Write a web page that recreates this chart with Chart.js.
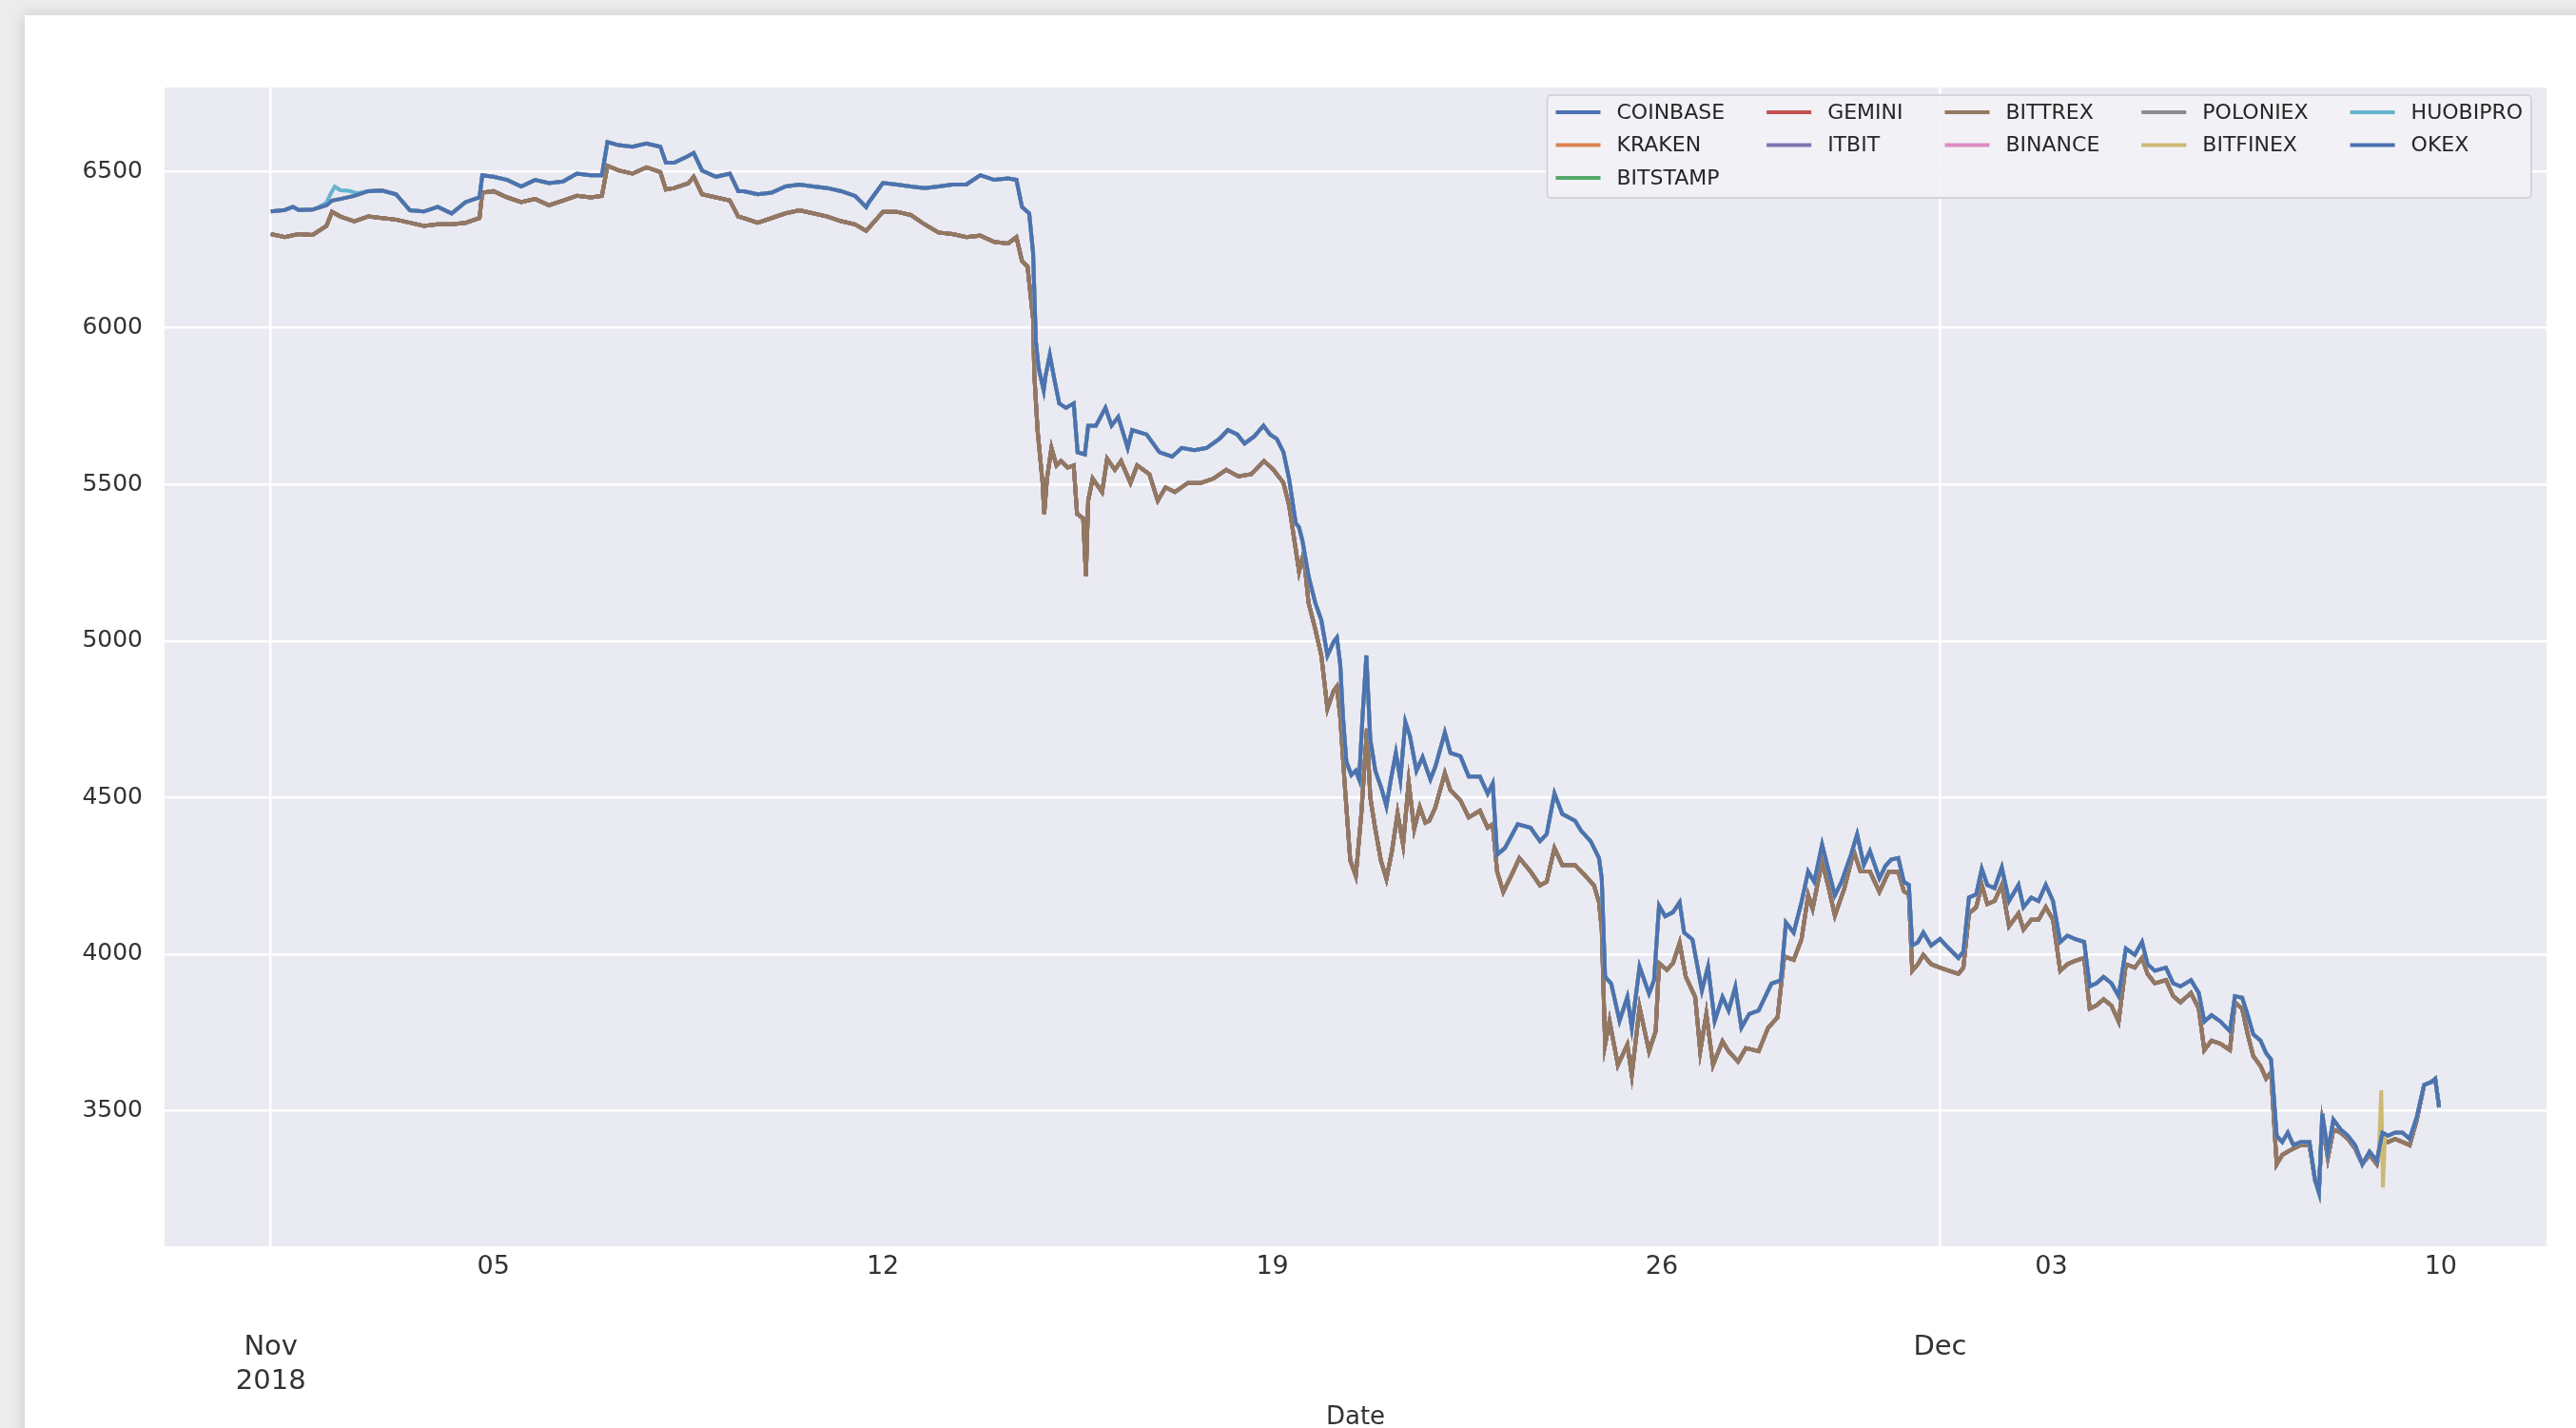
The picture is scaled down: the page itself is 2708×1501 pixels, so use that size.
<!DOCTYPE html>
<html>
<head>
<meta charset="utf-8">
<script src="https://cdn.jsdelivr.net/npm/chart.js@4.4.1/dist/chart.umd.min.js"></script>
<style>
  html, body { margin: 0; padding: 0; }
  body { width: 2708px; height: 1501px; background: #ececec; position: relative; overflow: hidden; }
  #card { position: absolute; left: 26px; top: 16px; width: 2720px; height: 1520px; background: #fff; box-shadow: 0 0 14px rgba(0,0,0,0.16); }
  #chart { position: absolute; left: 0; top: 0; }
</style>
</head>
<body>
<div id="card"></div>
<canvas id="chart" width="2708" height="1501"></canvas>
<script>
// x values are days since 2018-11-01 00:00
const exchanges = ["COINBASE", "KRAKEN", "BITSTAMP", "GEMINI", "ITBIT", "BITTREX",
                   "BINANCE", "POLONIEX", "BITFINEX", "HUOBIPRO", "OKEX"];
const colors = ["#4c72b0", "#dd8452", "#55a868", "#c44e52", "#8172b3", "#937860",
                "#da8bc3", "#8c8c8c", "#ccb974", "#64b5cd", "#4c72b0"];
// which exchanges follow the upper (USDT) price line
const upperGroup = ["BINANCE", "POLONIEX", "BITFINEX", "HUOBIPRO", "OKEX"];

const minorTickDays = [4, 11, 18, 25, 32, 39];
const minorTickLabels = ["05", "12", "19", "26", "03", "10"];
const majorTickDays = [0, 30];
const majorTickLabels = [["Nov", "2018"], ["Dec"]];
const yTicks = [3500, 4000, 4500, 5000, 5500, 6000, 6500];

const upperPrices = [
  [0,6372],[0.25,6377],[0.4,6387],[0.5,6377],[0.75,6378],[1.0,6392],[1.1,6407],[1.25,6412],[1.5,6422],[1.75,6437],
  [2.0,6439],[2.25,6427],[2.5,6376],[2.75,6372],[3.0,6387],[3.25,6366],[3.5,6402],[3.75,6417],[3.8,6488],[4.0,6483],
  [4.25,6473],[4.5,6452],[4.75,6473],[5.0,6463],[5.25,6468],[5.5,6493],[5.75,6488],[5.95,6488],[6.05,6594],[6.25,6584],
  [6.5,6579],[6.75,6589],[7.0,6579],[7.1,6528],[7.25,6528],[7.5,6549],[7.6,6559],[7.75,6503],[8.0,6483],[8.25,6493],
  [8.4,6437],[8.5,6437],[8.75,6427],[9.0,6432],[9.25,6452],[9.5,6458],[9.75,6452],[10.0,6447],[10.25,6437],[10.5,6422],
  [10.7,6386],[10.75,6402],[11.0,6463],[11.25,6458],[11.5,6452],[11.75,6447],[12.0,6452],[12.25,6458],[12.5,6458],[12.75,6488],
  [13.0,6473],[13.25,6478],[13.4,6473],[13.5,6387],[13.63,6366],[13.7,6239],[13.75,5956],[13.8,5872],[13.89,5801],[13.92,5843],
  [14.0,5914],[14.09,5829],[14.17,5759],[14.29,5745],[14.43,5759],[14.5,5603],[14.63,5596],[14.69,5688],[14.83,5688],[15.0,5745],
  [15.11,5688],[15.23,5716],[15.4,5617],[15.48,5674],[15.74,5660],[15.97,5603],[16.2,5589],[16.37,5617],[16.6,5610],[16.82,5617],
  [17.05,5646],[17.2,5674],[17.37,5660],[17.5,5631],[17.67,5653],[17.84,5688],[17.96,5660],[18.08,5646],[18.2,5603],[18.3,5519],
  [18.42,5377],[18.48,5363],[18.54,5321],[18.65,5208],[18.77,5123],[18.88,5067],[18.99,4954],[19.1,4997],[19.16,5011],[19.22,4926],
  [19.27,4756],[19.33,4615],[19.42,4572],[19.5,4586],[19.56,4558],[19.62,4756],[19.69,4954],[19.76,4686],[19.85,4586],[19.96,4530],
  [20.05,4473],[20.13,4558],[20.22,4643],[20.3,4558],[20.39,4742],[20.47,4699],[20.59,4586],[20.7,4629],[20.84,4558],[20.93,4599],
  [21.1,4708],[21.2,4643],[21.38,4632],[21.53,4567],[21.73,4567],[21.87,4513],[21.96,4545],[22.04,4318],[22.18,4339],[22.41,4415],
  [22.64,4404],[22.81,4361],[22.93,4383],[23.07,4513],[23.21,4448],[23.44,4426],[23.55,4394],[23.72,4361],[23.87,4307],[23.92,4242],
  [23.98,3928],[24.09,3906],[24.24,3787],[24.38,3863],[24.46,3765],[24.6,3960],[24.77,3874],[24.86,3917],[24.95,4155],[25.06,4121],
  [25.2,4134],[25.32,4166],[25.4,4069],[25.55,4047],[25.72,3884],[25.83,3960],[25.95,3787],[26.09,3863],[26.2,3820],[26.32,3895],
  [26.43,3765],[26.57,3809],[26.74,3820],[26.97,3906],[27.14,3917],[27.23,4101],[27.37,4069],[27.51,4166],[27.63,4264],[27.74,4231],
  [27.88,4350],[28.0,4264],[28.11,4188],[28.23,4231],[28.4,4318],[28.51,4383],[28.63,4285],[28.74,4329],[28.91,4242],[29.02,4282],
  [29.12,4302],[29.25,4307],[29.35,4231],[29.44,4221],[29.5,4028],[29.6,4038],[29.7,4069],[29.84,4028],[30.0,4049],[30.16,4018],
  [30.33,3988],[30.42,4008],[30.52,4181],[30.65,4191],[30.75,4272],[30.85,4221],[30.98,4211],[31.11,4277],[31.24,4170],[31.41,4221],
  [31.5,4150],[31.64,4181],[31.77,4170],[31.9,4221],[32.03,4170],[32.16,4039],[32.29,4059],[32.42,4049],[32.59,4039],[32.69,3897],
  [32.81,3907],[32.94,3927],[33.08,3907],[33.21,3866],[33.34,4018],[33.5,3998],[33.63,4039],[33.73,3968],[33.86,3947],[34.06,3957],
  [34.19,3907],[34.32,3897],[34.51,3917],[34.65,3876],[34.75,3785],[34.88,3805],[35.04,3785],[35.21,3754],[35.3,3866],[35.43,3861],
  [35.53,3805],[35.63,3744],[35.76,3724],[35.86,3684],[35.95,3663],[36.05,3420],[36.15,3400],[36.25,3430],[36.35,3390],[36.48,3400],
  [36.64,3400],[36.74,3278],[36.81,3238],[36.87,3491],[36.97,3369],[37.07,3471],[37.2,3440],[37.33,3420],[37.46,3390],[37.59,3329],
  [37.72,3369],[37.85,3339],[37.95,3430],[38.05,3420],[38.18,3430],[38.31,3430],[38.44,3410],[38.57,3481],[38.7,3582],[38.83,3592],
  [38.9,3602],[38.97,3511]
];

const lowerPrices = [
  [0,6300],[0.25,6290],[0.5,6300],[0.75,6297],[1.0,6326],[1.1,6371],[1.25,6356],[1.5,6341],[1.75,6356],[2.0,6351],
  [2.25,6346],[2.5,6336],[2.75,6326],[3.0,6331],[3.25,6331],[3.5,6336],[3.75,6351],[3.8,6432],[4.0,6437],[4.25,6417],
  [4.5,6402],[4.75,6412],[5.0,6392],[5.25,6407],[5.5,6422],[5.75,6417],[5.95,6422],[6.05,6518],[6.25,6503],[6.5,6493],
  [6.75,6513],[7.0,6498],[7.1,6442],[7.25,6447],[7.5,6462],[7.6,6483],[7.75,6427],[8.0,6417],[8.25,6407],[8.4,6356],
  [8.5,6351],[8.75,6336],[9.0,6351],[9.25,6366],[9.5,6376],[9.75,6366],[10.0,6356],[10.25,6341],[10.5,6331],[10.7,6310],
  [10.75,6320],[11.0,6371],[11.25,6371],[11.5,6361],[11.75,6331],[12.0,6305],[12.25,6300],[12.5,6290],[12.75,6295],[13.0,6275],
  [13.25,6270],[13.4,6290],[13.5,6214],[13.6,6196],[13.7,6027],[13.72,5857],[13.78,5674],[13.87,5505],[13.9,5406],[13.95,5519],
  [14.03,5617],[14.12,5561],[14.2,5575],[14.32,5554],[14.43,5561],[14.49,5406],[14.6,5392],[14.65,5208],[14.69,5448],[14.77,5519],
  [14.94,5476],[15.03,5582],[15.17,5547],[15.28,5575],[15.45,5505],[15.57,5561],[15.79,5533],[15.94,5448],[16.08,5491],[16.25,5476],
  [16.48,5505],[16.71,5505],[16.94,5519],[17.17,5547],[17.39,5526],[17.62,5533],[17.85,5575],[18.02,5547],[18.2,5505],[18.3,5434],
  [18.42,5293],[18.48,5222],[18.56,5279],[18.65,5123],[18.77,5039],[18.88,4954],[18.99,4784],[19.1,4841],[19.16,4855],[19.22,4756],
  [19.3,4544],[19.4,4300],[19.5,4250],[19.6,4450],[19.7,4720],[19.76,4500],[19.85,4400],[19.95,4300],[20.05,4240],[20.15,4330],
  [20.25,4450],[20.35,4350],[20.45,4550],[20.55,4400],[20.65,4470],[20.75,4420],[20.82,4426],[20.93,4469],[21.1,4578],[21.2,4524],
  [21.38,4491],[21.53,4437],[21.73,4458],[21.87,4404],[21.96,4415],[22.04,4264],[22.15,4199],[22.3,4253],[22.44,4307],[22.64,4264],
  [22.81,4220],[22.93,4231],[23.07,4339],[23.21,4285],[23.44,4285],[23.61,4253],[23.78,4220],[23.87,4166],[23.92,4079],[23.98,3711],
  [24.06,3787],[24.21,3646],[24.38,3711],[24.46,3614],[24.6,3830],[24.77,3690],[24.89,3754],[24.95,3971],[25.09,3950],[25.2,3971],
  [25.32,4036],[25.43,3928],[25.6,3863],[25.69,3690],[25.8,3809],[25.92,3646],[26.09,3722],[26.2,3690],[26.37,3657],[26.51,3700],
  [26.74,3690],[26.91,3765],[27.08,3798],[27.2,3993],[27.37,3982],[27.51,4047],[27.63,4188],[27.71,4145],[27.88,4296],[28.0,4210],
  [28.11,4123],[28.28,4210],[28.45,4329],[28.57,4264],[28.74,4264],[28.91,4199],[29.08,4264],[29.25,4262],[29.35,4201],[29.44,4191],
  [29.5,3947],[29.6,3968],[29.7,3998],[29.84,3968],[30.0,3957],[30.16,3947],[30.33,3937],[30.42,3957],[30.52,4130],[30.65,4150],
  [30.75,4221],[30.85,4160],[30.98,4170],[31.11,4221],[31.24,4089],[31.41,4130],[31.5,4079],[31.64,4110],[31.77,4110],[31.9,4150],
  [32.03,4110],[32.16,3947],[32.29,3968],[32.42,3978],[32.59,3988],[32.69,3826],[32.81,3836],[32.94,3856],[33.08,3836],[33.21,3785],
  [33.34,3968],[33.5,3957],[33.63,3988],[33.73,3937],[33.86,3907],[34.06,3917],[34.19,3866],[34.32,3846],[34.51,3876],[34.65,3826],
  [34.75,3694],[34.88,3724],[35.04,3714],[35.21,3694],[35.3,3846],[35.43,3826],[35.53,3744],[35.63,3674],[35.76,3643],[35.86,3603],
  [35.95,3623],[36.05,3329],[36.15,3359],[36.25,3369],[36.35,3379],[36.48,3390],[36.64,3390],[36.74,3278],[36.81,3248],[36.87,3461],
  [36.97,3349],[37.07,3440],[37.2,3430],[37.33,3410],[37.46,3379],[37.59,3329],[37.72,3359],[37.85,3329],[37.95,3410],[38.05,3400],
  [38.18,3410],[38.31,3400],[38.44,3390],[38.57,3471],[38.7,3582],[38.83,3592],[38.9,3602],[38.97,3511]
];

// stretches where a single exchange leaves the common line
const huobiEarly = [[0.85,6385],[1.0,6400],[1.08,6430],[1.15,6452],[1.25,6440],[1.4,6438],[1.55,6430],[1.7,6435]];
const bitfinexSpike = [[37.88,3345],[37.93,3565],[37.96,3255],[38.0,3425]];

function toPoints(rows) {
  return rows.map(r => ({ x: r[0], y: r[1] }));
}
function withSegment(base, seg) {
  const lo = seg[0][0], hi = seg[seg.length - 1][0];
  const rows = base.filter(r => r[0] < lo || r[0] > hi).concat(seg);
  rows.sort((a, b) => a[0] - b[0]);
  return toPoints(rows);
}

function seriesFor(name) {
  if (name === "HUOBIPRO") return withSegment(upperPrices, huobiEarly);
  if (name === "BITFINEX") return withSegment(upperPrices, bitfinexSpike);
  return toPoints(upperGroup.includes(name) ? upperPrices : lowerPrices);
}

const datasets = exchanges.map((name, i) => ({
  label: name,
  data: seriesFor(name),
  borderColor: colors[i],
  borderWidth: 4,
  pointRadius: 0,
  fill: false,
  tension: 0,
  order: exchanges.length - 1 - i  // later columns drawn on top, like pandas
}));

const plotBg = {
  id: "plotBg",
  beforeDraw(chart) {
    const { ctx, chartArea: a } = chart;
    ctx.save();
    ctx.fillStyle = "#eaeaf2";
    ctx.fillRect(a.left, a.top, a.width, a.height);
    ctx.restore();
  }
};

// column-major legend box, 5 columns, like matplotlib ncol=5
const gridLegend = {
  id: "gridLegend",
  afterDatasetsDraw(chart) {
    const { ctx, chartArea } = chart;
    const sets = chart.data.datasets;
    const nCol = 5, handle = 47, textPad = 17, colGap = 44, rowH = 34.5, pad = 9;
    ctx.save();
    ctx.font = '22px "DejaVu Sans"';
    const base = Math.floor(sets.length / nCol), extra = sets.length % nCol;
    const cols = [];
    let k = 0;
    for (let c = 0; c < nCol; c++) {
      const n = base + (c < extra ? 1 : 0);
      cols.push(sets.slice(k, k + n));
      k += n;
    }
    const widths = cols.map(col => Math.max(...col.map(d => ctx.measureText(d.label).width)));
    const inner = widths.reduce((s, w) => s + handle + textPad + w, 0) + colGap * (nCol - 1);
    const boxW = inner + pad * 2, boxH = 108;
    const right = chartArea.right - 16, top = chartArea.top + 8;
    const left = right - boxW;

    ctx.beginPath();
    if (ctx.roundRect) ctx.roundRect(left, top, boxW, boxH, 4); else ctx.rect(left, top, boxW, boxH);
    ctx.fillStyle = "rgba(242,242,247,0.85)";
    ctx.fill();
    ctx.lineWidth = 2;
    ctx.strokeStyle = "#d4d4d8";
    ctx.stroke();

    ctx.textBaseline = "middle";
    ctx.textAlign = "left";
    let x = left + pad;
    cols.forEach((col, c) => {
      col.forEach((d, r) => {
        const y = top + 18 + r * rowH;
        ctx.beginPath();
        ctx.moveTo(x, y);
        ctx.lineTo(x + handle, y);
        ctx.strokeStyle = d.borderColor;
        ctx.lineWidth = 4;
        ctx.stroke();
        ctx.fillStyle = "#262626";
        ctx.fillText(d.label, x + handle + textPad, y + 1);
      });
      x += handle + textPad + widths[c] + colGap;
    });
    ctx.restore();
  }
};

Chart.defaults.font.family = '"DejaVu Sans"';
Chart.defaults.color = "#333";

const xMin = -1.91, xMax = 40.9;

new Chart(document.getElementById("chart"), {
  type: "line",
  data: { datasets },
  options: {
    responsive: false,
    animation: false,
    events: [],
    layout: { padding: { top: 92, right: 31, left: 0, bottom: 0 } },
    plugins: { legend: { display: false }, tooltip: { enabled: false } },
    scales: {
      x: {
        type: "linear",
        position: "bottom",
        weight: 0,
        min: xMin,
        max: xMax,
        grid: { display: false, drawTicks: false },
        border: { display: false },
        afterBuildTicks: s => { s.ticks = minorTickDays.map(v => ({ value: v })); },
        afterFit: s => { s.height = 40; },
        ticks: {
          autoSkip: false,
          maxRotation: 0,
          padding: 6,
          font: { size: 27 },
          color: "#333",
          callback: (v, i) => minorTickLabels[i]
        }
      },
      x2: {
        type: "linear",
        position: "bottom",
        axis: "x",
        weight: 1,
        min: xMin,
        max: xMax,
        grid: { display: true, drawTicks: false, color: "#ffffff", lineWidth: 2.5 },
        border: { display: false },
        afterBuildTicks: s => { s.ticks = majorTickDays.map(v => ({ value: v })); },
        afterFit: s => { s.height = 151; },
        ticks: {
          autoSkip: false,
          maxRotation: 0,
          padding: 48,
          font: { size: 29, lineHeight: 1.25 },
          color: "#333",
          callback: (v, i) => majorTickLabels[i]
        },
        title: {
          display: true,
          text: "Date",
          font: { size: 26, lineHeight: 0.85 },
          color: "#333",
          padding: { top: 0, bottom: 0 }
        }
      },
      y: {
        type: "linear",
        position: "left",
        min: 3067,
        max: 6768,
        grid: { color: "#ffffff", lineWidth: 2.5, drawTicks: false },
        border: { display: false },
        afterBuildTicks: s => { s.ticks = yTicks.map(v => ({ value: v })); },
        afterFit: s => { s.width = 173; },
        ticks: {
          padding: 23,
          font: { size: 25 },
          color: "#333",
          callback: v => String(v)
        }
      }
    }
  },
  plugins: [plotBg, gridLegend]
});
</script>
</body>
</html>
